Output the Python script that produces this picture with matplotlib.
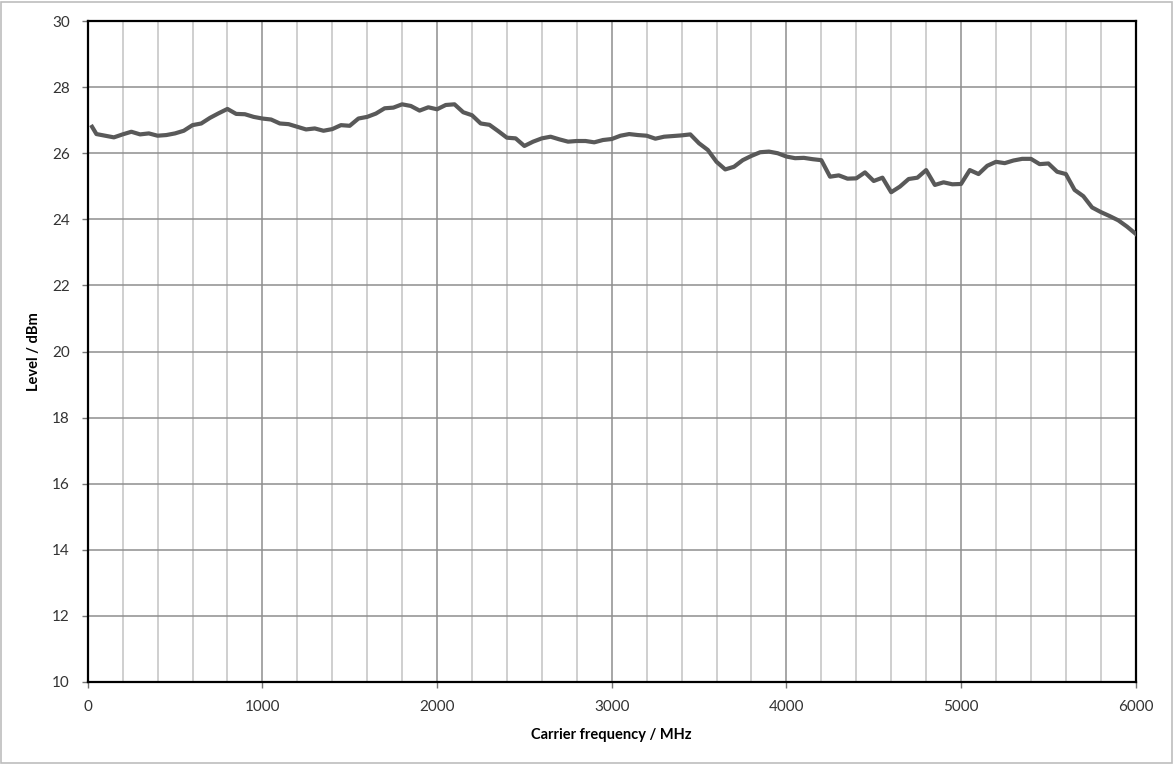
import matplotlib
matplotlib.use("Agg")
import matplotlib.pyplot as plt
from matplotlib.patches import Rectangle
from matplotlib.ticker import MultipleLocator

# carrier frequency in MHz, first point at 25 then every 50 MHz
freq = [25] + list(range(50, 6001, 50))

level = [
    26.80, 26.58, 26.53, 26.48, 26.57, 26.65, 26.57, 26.60, 26.53, 26.55,
    26.60, 26.68, 26.85, 26.90, 27.07, 27.21, 27.34, 27.19, 27.18, 27.10,
    27.05, 27.02, 26.90, 26.88, 26.80, 26.72, 26.75, 26.68, 26.73, 26.85,
    26.83, 27.05, 27.10, 27.20, 27.36, 27.38, 27.48, 27.43, 27.29, 27.39,
    27.33, 27.46, 27.48, 27.24, 27.15, 26.90, 26.86, 26.67, 26.47, 26.45,
    26.22, 26.35, 26.45, 26.50, 26.42, 26.35, 26.37, 26.37, 26.33, 26.40,
    26.43, 26.53, 26.58, 26.55, 26.53, 26.44, 26.50, 26.52, 26.54, 26.57,
    26.30, 26.10, 25.74, 25.51, 25.59, 25.79, 25.92, 26.03, 26.05, 26.00,
    25.90, 25.85, 25.86, 25.82, 25.79, 25.29, 25.33, 25.23, 25.24, 25.42,
    25.16, 25.26, 24.82, 24.99, 25.22, 25.26, 25.49, 25.04, 25.12, 25.06,
    25.07, 25.49, 25.37, 25.62, 25.74, 25.70, 25.78, 25.83, 25.83, 25.67,
    25.69, 25.44, 25.37, 24.89, 24.70, 24.36, 24.22, 24.10, 23.97, 23.78,
    23.56,
]

plt.rcParams['font.family'] = ['Lato', 'DejaVu Sans']

fig = plt.figure(figsize=(11.74, 7.65), dpi=100)
ax = fig.add_axes([0.0747, 0.1085, 0.8927, 0.864])

# light frame around the whole chart, like the Excel chart area
fig.patches.append(Rectangle((0.001, 0.002), 0.997, 0.996, transform=fig.transFigure,
                             fill=False, edgecolor='#bdbdbd', linewidth=1.2))

ax.plot(freq, level, color='#595959', linewidth=3.0, solid_joinstyle='round', zorder=3)

ax.set_xlim(0, 6000)
ax.set_ylim(10, 30)
ax.xaxis.set_major_locator(MultipleLocator(1000))
ax.xaxis.set_minor_locator(MultipleLocator(200))
ax.yaxis.set_major_locator(MultipleLocator(2))

ax.grid(True, which='minor', axis='x', color='#c2c2c2', linewidth=1.1)
ax.grid(True, which='major', axis='x', color='#8e8e8e', linewidth=1.1)
ax.grid(True, which='major', axis='y', color='#8e8e8e', linewidth=1.1)
ax.set_axisbelow(True)

for s in ax.spines.values():
    s.set_color('black')
    s.set_linewidth(1.6)

ax.tick_params(which='major', direction='out', length=4, width=1, color='#777777',
               labelsize=11, labelcolor='#333333', pad=9)
ax.tick_params(which='minor', length=0)

ax.set_xlabel("Carrier frequency / MHz", fontsize=10.5, fontweight='bold', labelpad=10)
ax.set_ylabel("Level / dBm", fontsize=10.5, fontweight='bold', labelpad=8)

fig.savefig("out.png", dpi=100)
